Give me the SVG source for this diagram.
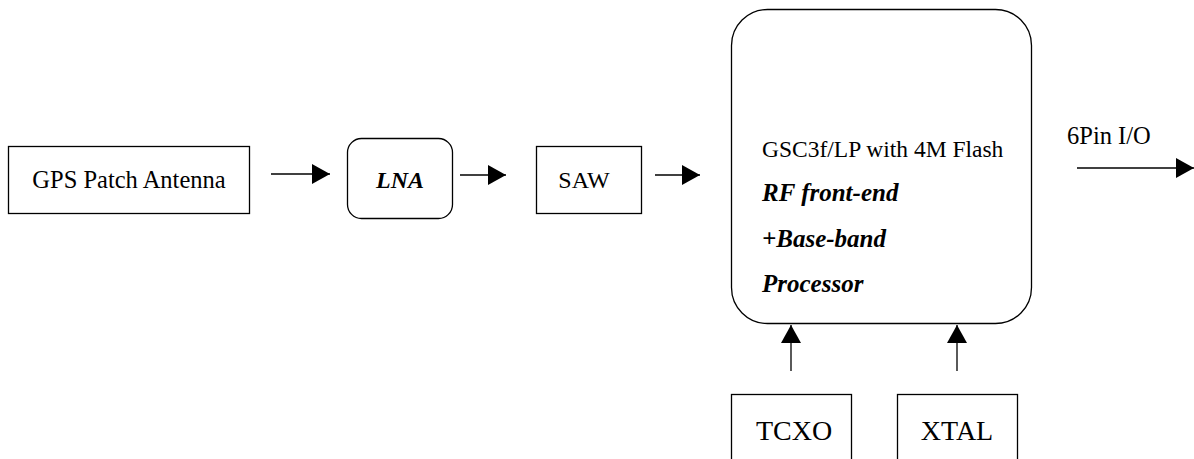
<svg xmlns="http://www.w3.org/2000/svg" width="1194" height="459" viewBox="0 0 1194 459">
<style>
.box{fill:#fff;stroke:#000;stroke-width:1.3}
.t{font-family:"Liberation Serif","Times New Roman",serif;fill:#000}
.bi{font-weight:bold;font-style:italic}
.c{stroke:#000;stroke-width:1.3;fill:none}
</style>
<defs>
<marker id="ah" viewBox="0 0 18 20" refX="18" refY="10" markerWidth="18" markerHeight="20" markerUnits="userSpaceOnUse" orient="auto">
<path d="M0,0 L18,10 L0,20 Z" fill="#000"/>
</marker>
</defs>
<rect width="1194" height="459" fill="#fff"/>
<g id="gps">
<rect class="box" x="8.5" y="146.5" width="241" height="67"/>
<text class="t" x="129" y="188" font-size="24.5" text-anchor="middle">GPS Patch Antenna</text>
</g>
<g id="lna">
<rect class="box" x="347.5" y="138.5" width="105" height="80" rx="14"/>
<text class="t bi" x="400" y="188" font-size="24" text-anchor="middle">LNA</text>
</g>
<g id="saw">
<rect class="box" x="536.5" y="146.5" width="105" height="67"/>
<text class="t" x="584" y="188" font-size="24" text-anchor="middle">SAW</text>
</g>
<g id="main">
<rect class="box" x="731.5" y="9.5" width="300" height="314" rx="36"/>
<text class="t" x="762" y="157" font-size="23.5">GSC3f/LP with 4M Flash</text>
<text class="t bi" x="762" y="201" font-size="25">RF front-end</text>
<text class="t bi" x="762" y="247" font-size="25">+Base-band</text>
<text class="t bi" x="762" y="292" font-size="25">Processor</text>
</g>
<g id="io">
<text class="t" x="1067" y="144" font-size="24.5">6Pin I/O</text>
</g>
<g id="tcxo">
<rect class="box" x="731.5" y="394.5" width="120" height="70"/>
<text class="t" x="794" y="440" font-size="28" text-anchor="middle">TCXO</text>
</g>
<g id="xtal">
<rect class="box" x="897.5" y="394.5" width="120" height="70"/>
<text class="t" x="957" y="440" font-size="28" text-anchor="middle">XTAL</text>
</g>
<g id="connectors">
<line class="c" x1="271" y1="174" x2="330" y2="174" marker-end="url(#ah)"/>
<line class="c" x1="460" y1="175" x2="506" y2="175" marker-end="url(#ah)"/>
<line class="c" x1="655" y1="175" x2="700" y2="175" marker-end="url(#ah)"/>
<line class="c" x1="1077" y1="168" x2="1194" y2="168" marker-end="url(#ah)"/>
<line class="c" x1="791" y1="371" x2="791" y2="325" marker-end="url(#ah)"/>
<line class="c" x1="957" y1="371" x2="957" y2="325" marker-end="url(#ah)"/>
</g>
</svg>
